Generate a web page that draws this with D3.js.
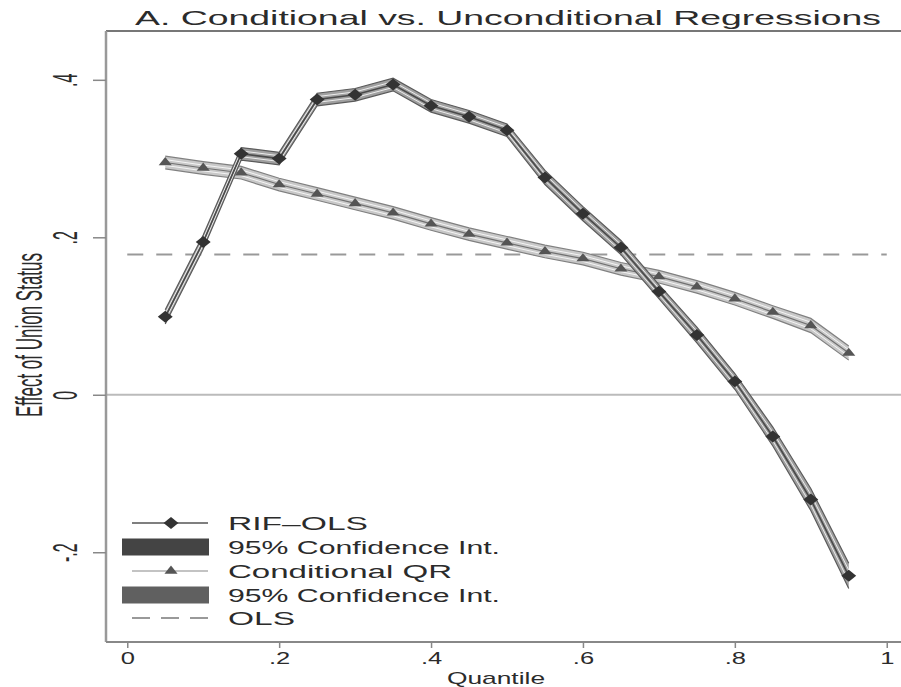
<!DOCTYPE html>
<html>
<head>
<meta charset="utf-8">
<script src="https://cdn.jsdelivr.net/npm/d3@7"></script>
<style>
  body { margin: 0; background: #fff; }
  text { font-family: "Liberation Sans", Arial, sans-serif; fill: #2b2b2b; }
</style>
</head>
<body>
<svg id="chart" width="901" height="687"></svg>
<script>
// values
var quantiles = [0.05, 0.10, 0.15, 0.20, 0.25, 0.30, 0.35, 0.40, 0.45, 0.50,
                 0.55, 0.60, 0.65, 0.70, 0.75, 0.80, 0.85, 0.90, 0.95];
var rifOls   = [0.099, 0.194, 0.306, 0.300, 0.375, 0.381, 0.394, 0.367, 0.353, 0.336,
                0.276, 0.230, 0.187, 0.131, 0.076, 0.017, -0.053, -0.133, -0.230];
var rifLower = [0.090, 0.185, 0.298, 0.292, 0.367, 0.373, 0.386, 0.359, 0.345, 0.328,
                0.267, 0.221, 0.178, 0.122, 0.066, 0.007, -0.065, -0.147, -0.246];
var rifUpper = [0.108, 0.203, 0.314, 0.308, 0.383, 0.389, 0.402, 0.375, 0.361, 0.344,
                0.285, 0.239, 0.196, 0.140, 0.086, 0.027, -0.041, -0.119, -0.214];
var condQr   = [0.295, 0.288, 0.282, 0.267, 0.255, 0.243, 0.231, 0.217, 0.204, 0.193,
                0.182, 0.173, 0.160, 0.150, 0.137, 0.122, 0.105, 0.088, 0.053];
var qrLower  = [0.287, 0.280, 0.274, 0.259, 0.247, 0.235, 0.223, 0.209, 0.196, 0.185,
                0.174, 0.165, 0.152, 0.142, 0.129, 0.114, 0.097, 0.079, 0.044];
var qrUpper  = [0.303, 0.296, 0.290, 0.275, 0.263, 0.251, 0.239, 0.225, 0.212, 0.201,
                0.190, 0.181, 0.168, 0.158, 0.145, 0.130, 0.113, 0.097, 0.062];
var olsEffect = 0.178;

var xTicks = [0, 0.2, 0.4, 0.6, 0.8, 1];
var xTickLabels = ["0", ".2", ".4", ".6", ".8", "1"];
var yTicks = [-0.2, 0, 0.2, 0.4];
var yTickLabels = ["-.2", "0", ".2", ".4"];
var legendLabels = ["RIF\u2013OLS", "95% Confidence Int.", "Conditional QR", "95% Confidence Int.", "OLS"];

// widths the scanned legend texts take up (the scan is stretched sideways)
var legendTextWidths = [140, 272, 224, 272, 67];

var svg = d3.select("#chart");
var plotLeft = 106, plotRight = 908, plotTop = 31, plotBottom = 642;

var x = d3.scaleLinear().domain([-0.028, 1.028]).range([plotLeft, plotRight]);
var y = d3.scaleLinear().domain([-0.314, 0.462]).range([plotBottom, plotTop]);

// widen a text by factor k
function stretch(sel, k) {
	sel.each(function () {
		var w = this.getComputedTextLength();
		d3.select(this).attr("textLength", w * k).attr("lengthAdjust", "spacingAndGlyphs");
	});
}

var rows = quantiles.map(function (q, i) {
	return { q: q, rif: rifOls[i], rl: rifLower[i], ru: rifUpper[i],
	         qr: condQr[i], ql: qrLower[i], qu: qrUpper[i] };
});

// title
svg.append("text")
	.attr("x", 135).attr("y", 25)
	.style("font-size", "21px")
	.attr("textLength", 746).attr("lengthAdjust", "spacingAndGlyphs")
	.text("A. Conditional vs. Unconditional Regressions");

// zero line
svg.append("line")
	.attr("x1", plotLeft).attr("x2", plotRight)
	.attr("y1", y(0)).attr("y2", y(0))
	.style("stroke", "#bbb").style("stroke-width", 2);

// OLS dashed line
svg.append("line")
	.attr("x1", x(0)).attr("x2", x(1))
	.attr("y1", y(olsEffect)).attr("y2", y(olsEffect))
	.style("stroke", "#999").style("stroke-width", 2)
	.style("stroke-dasharray", "16,13");

// band with railroad look: fill, edges, white stripes, centre line, markers
function band(lo, hi, mid, fill, edge, centre, centreW, marker, markerSize, sx, sy, markFill) {
	var g = svg.append("g");
	g.append("path").datum(rows)
		.attr("d", d3.area().x(function (d) { return x(d.q); })
			.y0(function (d) { return y(d[lo]); }).y1(function (d) { return y(d[hi]); }))
		.style("fill", fill).style("stroke", "none");
	[lo, hi].forEach(function (k) {
		g.append("path").datum(rows)
			.attr("d", d3.line().x(function (d) { return x(d.q); }).y(function (d) { return y(d[k]); }))
			.style("fill", "none").style("stroke", edge).style("stroke-width", 1.2);
	});
	[0.27, 0.73].forEach(function (f) {
		g.append("path").datum(rows)
			.attr("d", d3.line().x(function (d) { return x(d.q); })
				.y(function (d) { return y(d[lo]) + (y(d[hi]) - y(d[lo])) * f; }))
			.style("fill", "none").style("stroke", "#fff").style("stroke-width", 1)
			.style("opacity", 0.8);
	});
	g.append("path").datum(rows)
		.attr("d", d3.line().x(function (d) { return x(d.q); }).y(function (d) { return y(d[mid]); }))
		.style("fill", "none").style("stroke", centre).style("stroke-width", centreW);
	g.selectAll("path.mark").data(rows).enter().append("path")
		.attr("class", "mark")
		.attr("d", d3.symbol().type(marker).size(markerSize))
		.attr("transform", function (d) {
			return "translate(" + x(d.q) + "," + y(d[mid]) + ") scale(" + sx + "," + sy + ")";
		})
		.style("fill", markFill);
}

band("ql", "qu", "qr", "#c8c8c8", "#808080", "#707070", 1.2, d3.symbolTriangle, 38, 1.4, 1, "#555");
band("rl", "ru", "rif", "#a0a0a0", "#5a5a5a", "#4a4a4a", 1.6, d3.symbolDiamond, 80, 1.55, 0.72, "#333");

// frame
svg.append("line").attr("x1", plotLeft).attr("x2", 901).attr("y1", plotTop).attr("y2", plotTop)
	.style("stroke", "#777").style("stroke-width", 2);
svg.append("line").attr("x1", plotLeft).attr("x2", plotLeft).attr("y1", plotTop).attr("y2", plotBottom)
	.style("stroke", "#999").style("stroke-width", 2.5);

// x axis
var xAxis = svg.append("g")
	.attr("transform", "translate(0," + plotBottom + ")")
	.call(d3.axisBottom(x).tickValues(xTicks).tickSize(6).tickPadding(4)
		.tickFormat(function (d, i) { return xTickLabels[i]; }));
xAxis.select(".domain").attr("d", "M" + plotLeft + ",0H901").style("stroke", "#888").style("stroke-width", 2);
xAxis.selectAll(".tick line").style("stroke", "#888").style("stroke-width", 1.5);
xAxis.selectAll(".tick text")
	.attr("font-family", null)
	.style("font-size", "17px").style("fill", "#2b2b2b")
	.call(stretch, 1.5);

svg.append("text")
	.attr("x", 496).attr("y", 684)
	.attr("text-anchor", "middle")
	.style("font-size", "17px")
	.text("Quantile")
	.call(stretch, 1.55);

// y axis, labels turned upright
var yAxis = svg.append("g")
	.attr("transform", "translate(" + plotLeft + ",0)")
	.call(d3.axisLeft(y).tickValues(yTicks).tickSize(13)
		.tickFormat(function (d, i) { return yTickLabels[i]; }));
yAxis.select(".domain").remove();
yAxis.selectAll(".tick line").style("stroke", "#888").style("stroke-width", 1.5);
yAxis.selectAll(".tick text")
	.attr("x", null).attr("dy", null)
	.attr("font-family", null)
	.attr("text-anchor", "middle")
	.attr("transform", "translate(-29,0) scale(2.2,1) rotate(-90)")
	.style("font-size", "16px").style("fill", "#2b2b2b");

svg.append("text")
	.attr("transform", "translate(42,335) scale(2.2,1) rotate(-90)")
	.attr("text-anchor", "middle")
	.style("font-size", "17px")
	.text("Effect of Union Status");

// legend
var legRowY = [523, 547, 571, 595, 618];
var leg = svg.append("g");
leg.append("line").attr("x1", 132).attr("x2", 208).attr("y1", legRowY[0]).attr("y2", legRowY[0])
	.style("stroke", "#555").style("stroke-width", 1.5);
leg.append("path").attr("d", d3.symbol().type(d3.symbolDiamond).size(80))
	.attr("transform", "translate(171," + legRowY[0] + ") scale(1.55,0.72)").style("fill", "#333");
leg.append("rect").attr("x", 122).attr("y", legRowY[1] - 8.5).attr("width", 87).attr("height", 17)
	.style("fill", "#444");
leg.append("line").attr("x1", 132).attr("x2", 208).attr("y1", legRowY[2]).attr("y2", legRowY[2])
	.style("stroke", "#888").style("stroke-width", 1.2);
leg.append("path").attr("d", d3.symbol().type(d3.symbolTriangle).size(38))
	.attr("transform", "translate(171," + legRowY[2] + ") scale(1.4,1)").style("fill", "#555");
leg.append("rect").attr("x", 122).attr("y", legRowY[3] - 8.5).attr("width", 87).attr("height", 17)
	.style("fill", "#606060");
leg.append("line").attr("x1", 132).attr("x2", 208).attr("y1", legRowY[4]).attr("y2", legRowY[4])
	.style("stroke", "#999").style("stroke-width", 2).style("stroke-dasharray", "18,11");

leg.selectAll("text.lab").data(legendLabels).enter().append("text")
	.attr("class", "lab")
	.attr("x", 228)
	.attr("y", function (d, i) { return legRowY[i] + 6.5; })
	.attr("textLength", function (d, i) { return legendTextWidths[i]; })
	.attr("lengthAdjust", "spacingAndGlyphs")
	.style("font-size", "18px")
	.text(function (d) { return d; });
</script>
</body>
</html>
